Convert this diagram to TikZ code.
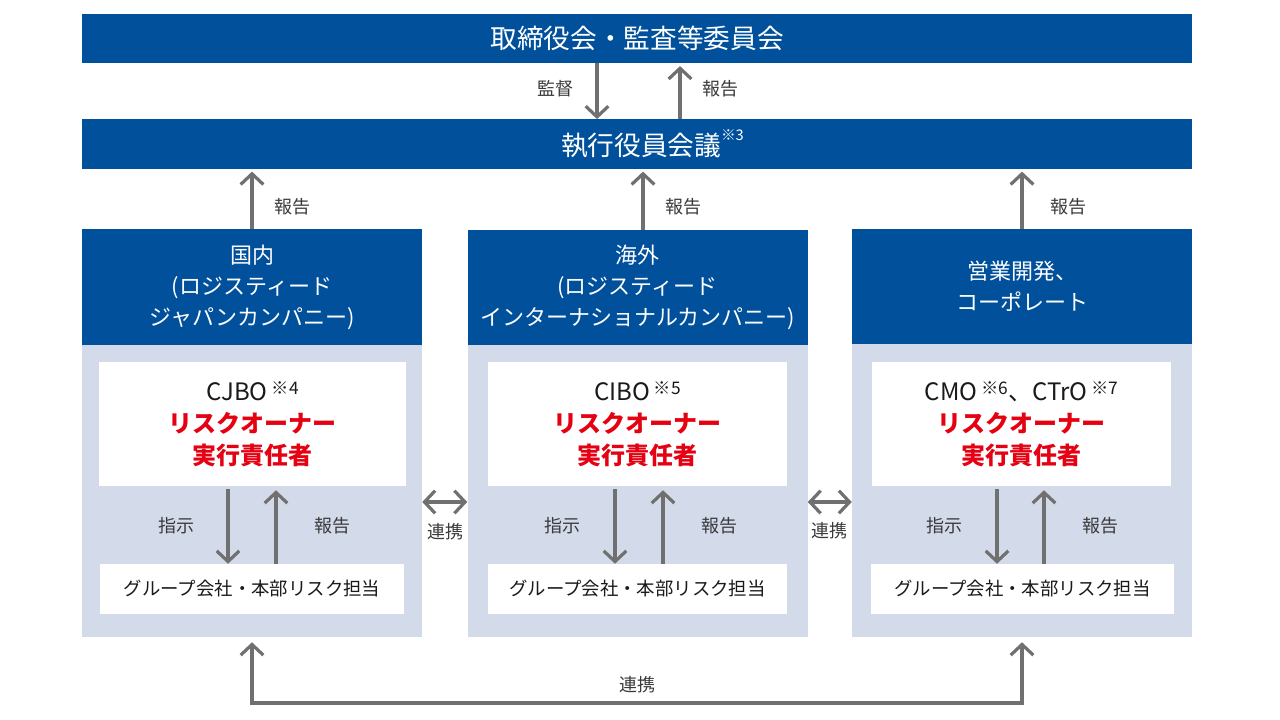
\documentclass[tikz,border=0pt]{standalone}
\usepackage{fontspec}
\setmainfont{Noto Sans CJK JP}
\usetikzlibrary{arrows.meta}
\definecolor{dblue}{HTML}{00509B}
\definecolor{lpanel}{HTML}{D3DAEA}
\definecolor{rred}{HTML}{E50012}
\definecolor{agray}{HTML}{707070}
\definecolor{tgray}{HTML}{3A3A3A}
\definecolor{tblack}{HTML}{1A1A1A}
\newcommand\supnote[1]{\raisebox{0.55em}{\fontsize{11}{11}\selectfont #1}}
\newcommand\supbig[1]{\,\raisebox{4.5pt}{\fontsize{13}{13}\selectfont #1}}
\begin{document}
\begin{tikzpicture}[x=0.75pt,y=-0.75pt,
  bar/.style={fill=dblue,text=white,inner sep=0pt,minimum width=832.5pt,minimum height=37pt,font=\fontsize{20}{24}\selectfont},
  header/.style={fill=dblue,text=white,inner sep=0pt,minimum width=255pt,minimum height=86.25pt,align=center,font=\fontsize{16.5}{23.25}\selectfont},
  panel/.style={fill=lpanel,inner sep=0pt,minimum width=255pt,minimum height=219.75pt},
  wtop/.style={fill=white,inner sep=0pt,minimum height=93pt,align=center,text=tblack,font=\fontsize{18}{24}\selectfont},
  wbot/.style={fill=white,inner sep=0pt,minimum height=37.5pt,text=tblack,font=\fontsize{13.8}{16}\selectfont},
  lbl/.style={text=tgray,inner sep=0pt,font=\fontsize{13.5}{16}\selectfont},
  arr/.style={draw=agray,line width=2.4pt,-{Straight Barb[length=8pt,width=17pt]}},
  darr/.style={draw=agray,line width=2.4pt,{Straight Barb[length=8pt,width=17pt]}-{Straight Barb[length=8pt,width=17pt]}}
]
\useasboundingbox (0,0) rectangle (1280,720);
\fill[white] (0,0) rectangle (1280,720);

% top bars
\node[bar] (top) at (637,38.5) {取締役会・監査等委員会};
\node[bar] (exec) at (637,144) {\hspace*{6pt}執行役員会議\rlap{\supnote{※3}}};

% panels
\node[panel] (p1) at (252,490.5) {};
\node[panel] (p2) at (637.5,490.5) {};
\node[panel] (p3) at (1022,490.5) {};

% headers
\node[header] (h1) at (252,287) {国内\\(ロジスティード\\ジャパンカンパニー)};
\node[header] (h2) at (637.5,287.5) {海外\\(ロジスティード\\インターナショナルカンパニー)};
\node[header] (h3) at (1022,286.5) {営業開発、\\コーポレート};

% white boxes
\node[wtop,minimum width=230.25pt] (wt1) at (252.5,424) {CJBO\supbig{※4}\\{\color{rred}\bfseries リスクオーナー}\\{\color{rred}\bfseries 実行責任者}};
\node[wtop,minimum width=224.25pt] (wt2) at (637.5,424) {CIBO\supbig{※5}\\{\color{rred}\bfseries リスクオーナー}\\{\color{rred}\bfseries 実行責任者}};
\node[wtop,minimum width=224.25pt] (wt3) at (1021.5,424) {CMO\supbig{※6}、CTrO\supbig{※7}\\{\color{rred}\bfseries リスクオーナー}\\{\color{rred}\bfseries 実行責任者}};

\node[wbot,minimum width=228pt] (wb1) at (252,589) {グループ会社・本部リスク担当};
\node[wbot,minimum width=224.25pt] (wb2) at (637.5,589) {グループ会社・本部リスク担当};
\node[wbot,minimum width=227.25pt] (wb3) at (1022.5,589) {グループ会社・本部リスク担当};

% top arrows
\draw[arr] ([xshift=-30pt]top.south) -- ([xshift=-30pt]top.south |- exec.north);
\draw[arr,shorten >=2pt] ([xshift=32.25pt]exec.north) -- ([xshift=32.25pt]exec.north |- top.south);
\node[lbl] (l1) at (555,89) {監督};
\node[lbl] (l2) at (720,89) {報告};

% header -> exec
\draw[arr,shorten >=2pt] (h1.north) -- (h1.north |- exec.south);
\draw[arr,shorten >=2pt] ([xshift=4.125pt]h2.north) -- ([xshift=4.125pt]h2.north |- exec.south);
\draw[arr,shorten >=2pt] (h3.north) -- (h3.north |- exec.south);
\node[lbl] (r1) at (292,207) {報告};
\node[lbl] (r2) at (683,207) {報告};
\node[lbl] (r3) at (1068,207) {報告};

% inner arrows
\draw[arr,shorten <=2pt] ([xshift=-18.375pt]wt1.south) -- ([xshift=-18.375pt]wt1.south |- wb1.north);
\draw[arr,shorten >=3pt] ([xshift=17.625pt]wt1.south |- wb1.north) -- ([xshift=17.625pt]wt1.south);
\draw[arr,shorten <=2pt] ([xshift=-16.875pt]wt2.south) -- ([xshift=-16.875pt]wt2.south |- wb2.north);
\draw[arr,shorten >=3pt] ([xshift=19.125pt]wt2.south |- wb2.north) -- ([xshift=19.125pt]wt2.south);
\draw[arr,shorten <=2pt] ([xshift=-18.375pt]wt3.south) -- ([xshift=-18.375pt]wt3.south |- wb3.north);
\draw[arr,shorten >=3pt] ([xshift=16.875pt]wt3.south |- wb3.north) -- ([xshift=16.875pt]wt3.south);
\node[lbl] (i1) at (176,526) {指示};
\node[lbl] (k1) at (332,526) {報告};
\node[lbl] (i2) at (562,526) {指示};
\node[lbl] (k2) at (719,526) {報告};
\node[lbl] (i3) at (944,526) {指示};
\node[lbl] (k3) at (1100,526) {報告};

% side links
\draw[darr] ([yshift=-8.625pt]p1.east) -- ([yshift=-8.625pt]p2.west);
\draw[darr] ([yshift=-8.625pt]p2.east) -- ([yshift=-8.625pt]p3.west);
\node[lbl] (c1) at (445,532) {連携};
\node[lbl] (c2) at (829,531) {連携};

% bottom link
\coordinate (bl) at (637,703);
\draw[darr,shorten <=3.75pt,shorten >=3.75pt] (p1.south) |- (bl) -| (p3.south);
\node[lbl] (c3) at (637,685) {連携};
\end{tikzpicture}
\end{document}
